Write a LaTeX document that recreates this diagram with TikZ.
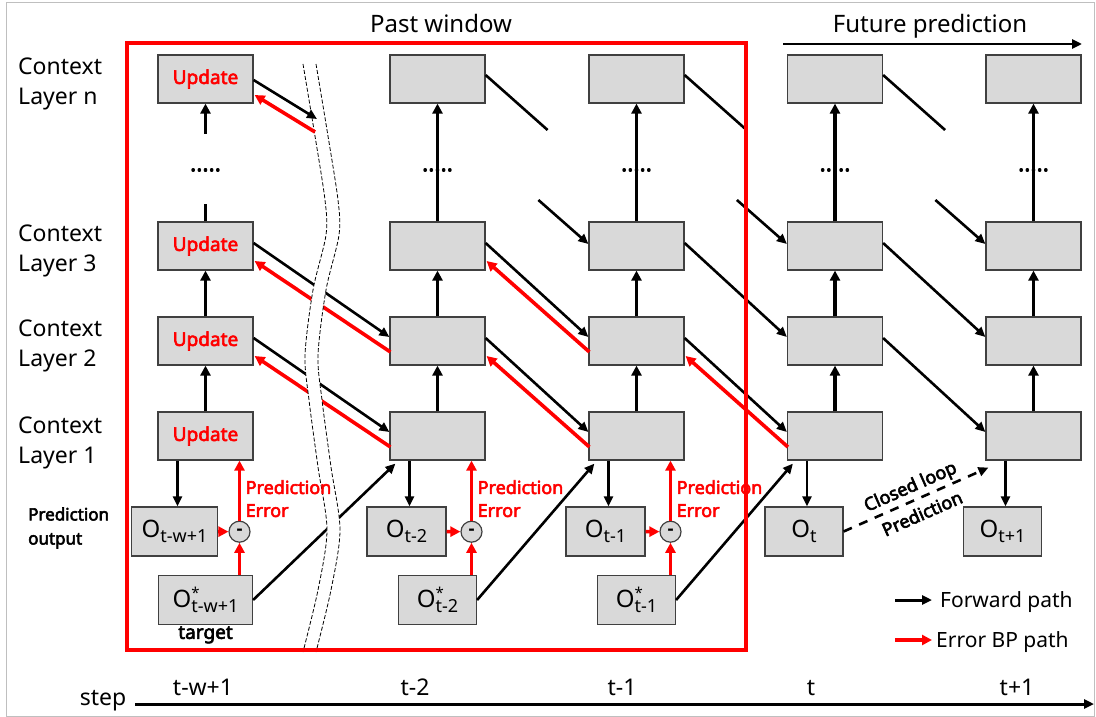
\documentclass[tikz,border=0pt]{standalone}
\usepackage{fontspec}
\setmainfont{Noto Sans}[AutoFakeBold=3.2]
\usetikzlibrary{positioning, arrows.meta, calc}

% O with subscript, and the target O with a star
\newcommand\Osub[1]{O\raisebox{-5pt}{\fontsize{18}{18}\selectfont #1}}
\newcommand\Ostar[1]{O\rlap{\raisebox{9pt}{\fontsize{15}{15}\selectfont *}}\raisebox{-5pt}{\fontsize{18}{18}\selectfont #1}}

\begin{document}
\begin{tikzpicture}[x=1pt, y=-1pt, font=\fontsize{23}{30}\selectfont,
  box/.style={draw=black!75, fill=black!15, line width=1.2pt, inner sep=0pt, minimum width=95, minimum height=48,
    text=red, font=\bfseries\fontsize{19}{19}\selectfont},
  obox/.style={draw=black!75, fill=black!15, line width=1.2pt, inner sep=0pt, minimum height=49, font=\fontsize{24}{24}\selectfont},
  mn/.style={circle, draw=black!75, fill=black!15, line width=1.2pt, inner sep=0pt, minimum size=21, font=\bfseries\fontsize{18}{18}\selectfont},
  fw/.style={line width=2.6pt, -{Triangle[length=10pt, width=9pt]}},
  up/.style={line width=3.2pt, -{Triangle[length=10pt, width=10pt]}},
  bp/.style={red, line width=3.6pt, -{Triangle[length=10pt, width=10pt]}},
  pe/.style={text=red, align=left, inner sep=0pt, anchor=west, font=\bfseries\fontsize{18}{23}\selectfont},
  lbl/.style={align=left, inner sep=0pt, anchor=west}]
\useasboundingbox (0,0) rectangle (1096,717);
\draw[black!25, line width=1pt] (6,3) rectangle (1094,716);

% context layers and outputs
\foreach \i/\x/\s/\w in {1/205.5/t-w+1/86, 2/437.5/t-2/79, 3/636.5/t-1/79, 4/835/t/78, 5/1033.5/t+1/78} {
  \node[box] (n\i) at (\x,79) {\ifnum\i=1 Update\fi};
  \node[box] (c3\i) at (\x,246) {\ifnum\i=1 Update\fi};
  \node[box] (c2\i) at (\x,341) {\ifnum\i=1 Update\fi};
  \node[box] (c1\i) at (\x,436) {\ifnum\i=1 Update\fi};
  \node[obox, minimum width=\w] (o\i) at (\x-31,531.5) {\Osub{\s}};
  \node (d\i) at (\x,170) {\textbf{.....}};
  \draw[up] (c1\i) -- (c2\i);
  \draw[up] (c2\i) -- (c3\i);
  \draw[fw] ([xshift=3pt]o\i.north |- c1\i.south) -- ([xshift=3pt]o\i.north);
}
\foreach \i in {2,...,5} \draw[up] (c3\i) -- (n\i);

% forward paths between layers
\foreach \i/\j in {1/2, 2/3, 3/4, 4/5} {
  \draw[fw] ($(c3\i.east)+(0,-3)$) -- ($(c2\j.west)+(0,-4)$);
  \draw[fw] ($(c2\i.east)+(0,-3)$) -- ($(c1\j.west)+(0,-4)$);
}
\foreach \i/\j in {2/3, 3/4, 4/5} {
  \draw[line width=2.6pt] ($(n\i.east)+(0,-4)$) -- ++(62,55);
  \draw[fw] ($(c3\j.west)+(-50,-46)$) -- ($(c3\j.west)+(0,-2)$);
}

% targets and errors
\foreach \i/\x/\s/\w in {1/205.5/t-w+1/94, 2/437.5/t-2/78, 3/636.5/t-1/78} {
  \node[obox, minimum width=\w] (s\i) at (\x,600) {\Ostar{\s}};
  \node[mn] (m\i) at (\x+34,531.7) {-};
  \draw[bp] (o\i) -- (m\i);
  \draw[bp] (s\i.north -| m\i) -- (m\i);
  \draw[bp] (m\i) -- (m\i |- c1\i.south);
}
\foreach \i/\j in {1/2, 2/3, 3/4} \draw[fw] (s\i.east) -- ($(c1\j.south west)+(6,3)$);

% error BP paths
\foreach \i/\j in {1/2, 2/3, 3/4} \draw[bp] ($(c1\j.west)+(1,11)$) -- ($(c2\i.east)+(1,15)$);
\foreach \i/\j in {1/2, 2/3} \draw[bp] ($(c2\j.west)+(1,11)$) -- ($(c3\i.east)+(1,15)$);

% cut between t-w+1 and t-2
\fill[white] plot[smooth] coordinates {(303,64) (314,130) (325,200) (326,235) (313,290) (305,355) (309,400) (318,467) (327,530) (318,590) (303,648)}
  -- plot[smooth] coordinates {(316,648) (331,590) (340,530) (331,467) (322,400) (318,355) (326,290) (339,235) (338,200) (327,130) (316,64)} -- cycle;
\foreach \d in {0,13}
  \draw[line width=0.8pt, dash pattern=on 4pt off 2pt, xshift=\d] plot[smooth] coordinates {(303,64) (314,130) (325,200) (326,235) (313,290) (305,355) (309,400) (318,467) (327,530) (318,590) (303,652)};

\coordinate (cutf) at (317,119);
\coordinate (cutb) at (315,132);
\draw[fw] ($(n1.east)+(0,1)$) -- (cutf);
\draw[bp] (cutb) -- ($(n1.east)+(1,16)$);
\draw[up] ($(n1.south)+(0,30)$) -- (n1);
\draw[line width=3.2pt] (c31.north) -- ++(0,-17);

\foreach \i in {1,2,3} \node[pe] (pe\i) at ($(m\i)+(6,-33)$) {Prediction\\Error};

% past window
\draw[red, line width=3.5pt] (127,43) rectangle (746,650);

% closed loop
\draw[line width=2.6pt, dash pattern=on 9pt off 8pt, -{Triangle[length=10pt, width=9pt]}] (o4.east)
  -- node[sloped, align=center, inner sep=0pt, font=\bfseries\fontsize{18}{30}\selectfont] (cl) {Closed loop\\Prediction} ($(c15.south west)+(3,7)$);

% labels
\node[anchor=base, font=\fontsize{24}{30}\selectfont] (pw) at (441,33) {Past window};
\node[anchor=base, font=\fontsize{24}{30}\selectfont] (fp) at (930,33) {Future prediction};
\coordinate (fp0) at (783,44);
\coordinate (fp1) at (1082,44);
\draw[fw, line width=2.8pt] (fp0) -- (fp1);

\node[lbl] (ln) at (18,84) {Context\\Layer n};
\node[lbl] (l3) at (18,251) {Context\\Layer 3};
\node[lbl] (l2) at (18,346) {Context\\Layer 2};
\node[lbl] (l1) at (18,443) {Context\\Layer 1};
\node[lbl, font=\bfseries\fontsize{17}{24}\selectfont] (po) at (28,528) {Prediction\\output};
\node[below=1pt of s1, inner sep=0pt, font=\bfseries\fontsize{19}{19}\selectfont] (tg) {target};

% legend
\node[lbl, font=\fontsize{21}{21}\selectfont] (lgf) at (940,602) {Forward path};
\node[lbl, font=\fontsize{21}{21}\selectfont] (lgb) at (936,642) {Error BP path};
\draw[fw, line width=3pt] ($(lgf.west)+(-45,-2)$) -- ($(lgf.west)+(-8,-2)$);
\draw[bp] ($(lgb.west)+(-41,-2)$) -- ($(lgb.west)+(-4,-2)$);

% step axis
\node[anchor=base] (stp) at (103,705) {step};
\foreach \x/\s [count=\k] in {203/t-w+1, 415/t-2, 622/t-1, 811/t, 1017/t+1}
  \node[anchor=base] (st\k) at (\x,695) {\s};
\coordinate (ax0) at (135,704);
\coordinate (ax1) at (1094,704);
\draw[line width=3pt, -{Triangle[length=10pt, width=9pt]}] (ax0) -- (ax1);
\end{tikzpicture}
\end{document}
